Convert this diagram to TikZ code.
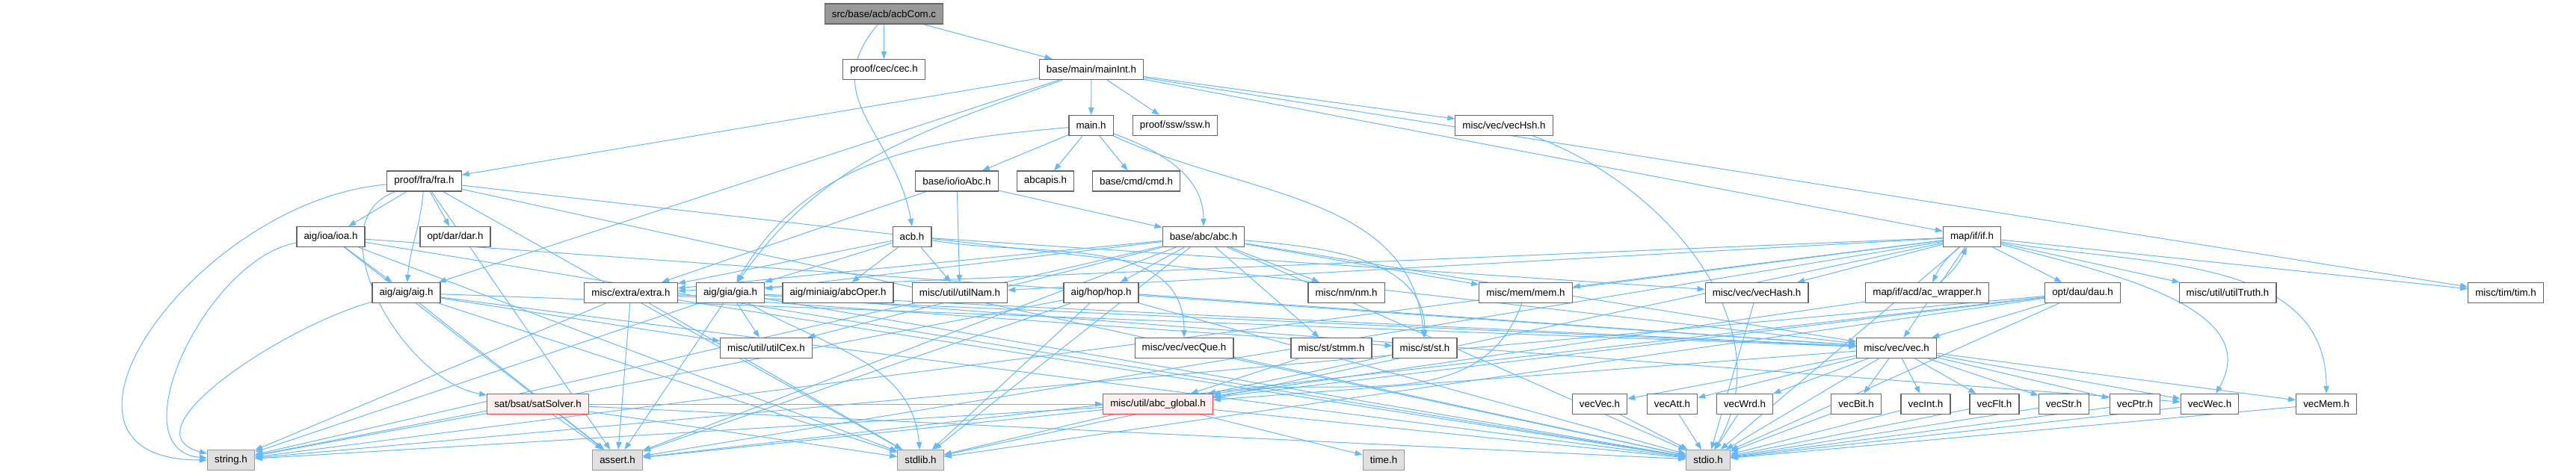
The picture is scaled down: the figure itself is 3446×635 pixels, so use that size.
\documentclass[tikz,border=0pt]{standalone}
\usepackage{fontspec}
\setmainfont{Liberation Sans}
\usetikzlibrary{arrows.meta}
\definecolor{edgeblue}{HTML}{63B8FF}
\definecolor{boxgray}{HTML}{666666}
\definecolor{sysgray}{HTML}{999999}
\definecolor{sysfill}{HTML}{E0E0E0}
\definecolor{rootfill}{HTML}{999999}
\definecolor{redline}{HTML}{F03C3C}
\definecolor{redfill}{HTML}{FFF0F0}
\pgfdeclarelayer{background}
\pgfsetlayers{background,main}
\tikzset{
  file/.style={draw=boxgray, fill=white, line width=0.9pt, font=\fontsize{10}{12}\selectfont,
    minimum height=20.25pt, inner xsep=7.2pt, inner ysep=2pt},
  rootfile/.style={file, fill=rootfill},
  sysfile/.style={file, draw=sysgray, fill=sysfill},
  cutfile/.style={file, draw=redline, fill=redfill},
  edge/.style={draw=edgeblue, line width=0.75pt, -{Triangle[length=7.5pt,width=5.5pt]}}
}
\begin{document}
\begin{tikzpicture}[x=0.75pt, y=-0.75pt]
  \useasboundingbox (0,0) rectangle (3446,635);
  \path
    (1182.5,18.5) node[rootfile] (acbcom){src/base/acb/acbCom.c}
    (1182.5,93) node[file] (cec){proof/cec/cec.h}
    (1460,93) node[file] (mainint){base/main/mainInt.h}
    (1459.5,168) node[file] (main){main.h}
    (1572,168) node[file] (ssw){proof/ssw/ssw.h}
    (2012,168) node[file] (vechsh){misc/vec/vecHsh.h}
    (567.5,242.5) node[file] (fra){proof/fra/fra.h}
    (1280,242.5) node[file] (ioabc){base/io/ioAbc.h}
    (1398.5,242.5) node[file] (abcapis){abcapis.h}
    (1520,242.5) node[file] (cmd){base/cmd/cmd.h}
    (442.5,317) node[file] (ioa){aig/ioa/ioa.h}
    (609,317) node[file] (dar){opt/dar/dar.h}
    (1220,317) node[file] (acb){acb.h}
    (1610,317) node[file] (abc){base/abc/abc.h}
    (2638,317) node[file] (ifh){map/if/if.h}
    (543.5,392) node[file] (aig){aig/aig/aig.h}
    (844,392) node[file] (extra){misc/extra/extra.h}
    (977,392) node[file] (gia){aig/gia/gia.h}
    (1121,392) node[file] (abcoper){aig/miniaig/abcOper.h}
    (1284,392) node[file] (utilnam){misc/util/utilNam.h}
    (1473,392) node[file] (hop){aig/hop/hop.h}
    (1801,392) node[file] (nm){misc/nm/nm.h}
    (2041,392) node[file] (mem){misc/mem/mem.h}
    (2350,392) node[file] (vechash){misc/vec/vecHash.h}
    (2578,392) node[file] (acwrap){map/if/acd/ac\_wrapper.h}
    (2786,392) node[file] (dau){opt/dau/dau.h}
    (2980,392) node[file] (utiltruth){misc/util/utilTruth.h}
    (3352,392) node[file] (tim){misc/tim/tim.h}
    (1025,466) node[file] (utilcex){misc/util/utilCex.h}
    (1584,466) node[file] (vecque){misc/vec/vecQue.h}
    (1781,466) node[file] (stmm){misc/st/stmm.h}
    (1906,466) node[file] (st){misc/st/st.h}
    (2537,466) node[file] (vec){misc/vec/vec.h}
    (719.5,541) node[cutfile] (satsolver){sat/bsat/satSolver.h}
    (1549,541) node[cutfile] (abcglobal){misc/util/abc\_global.h}
    (2140,541) node[file] (vecvec){vecVec.h}
    (2237,541) node[file] (vecatt){vecAtt.h}
    (2334,541) node[file] (vecwrd){vecWrd.h}
    (2483,541) node[file] (vecbit){vecBit.h}
    (2576,541) node[file] (vecint){vecInt.h}
    (2668,541) node[file] (vecflt){vecFlt.h}
    (2761,541) node[file] (vecstr){vecStr.h}
    (2856,541) node[file] (vecptr){vecPtr.h}
    (2956,541) node[file] (vecwec){vecWec.h}
    (3112,541) node[file] (vecmem){vecMem.h}
    (309,616) node[sysfile] (string){string.h}
    (826,616) node[sysfile] (assert){assert.h}
    (1231.5,616) node[sysfile] (stdlib){stdlib.h}
    (1851,616) node[sysfile] (time){time.h}
    (2285,616) node[sysfile] (stdio){stdio.h};
  \begin{pgfonlayer}{background}
  \begin{scope}[edge]
    \draw (acbcom.240) to[out=230,in=100,looseness=1.2] (acb.north);
    \draw (acbcom) to (cec);
    \draw (acbcom) to (mainint);
    \draw (mainint) to (main);
    \draw (mainint) to (ssw);
    \draw (mainint) to (vechsh);
    \draw (mainint) to (fra);
    \draw (mainint) to (ifh);
    \draw (mainint) to (tim);
    \draw (mainint) to (aig);
    \draw (mainint) to[out=200,in=55] (gia);
    \draw (main) to (ioabc);
    \draw (main) to (abcapis);
    \draw (main) to (cmd);
    \draw (main) to[out=-20,in=90] (abc);
    \draw (main) to[out=185,in=60] (gia);
    \draw (main) to[out=-25,in=95] (st);
    \draw (fra) to (ioa);
    \draw (fra) to (dar);
    \draw (fra) to[out=-95,in=85] (aig);
    \draw (fra) to[out=200,in=170] (satsolver);
    \draw (fra) to (vec);
    \draw (fra) to[out=185,in=180,looseness=1.5] (string);
    \draw (fra) to (stdlib);
    \draw (fra) to (assert);
    \draw (fra) to (stdio);
    \draw (ioa) to (aig);
    \draw (ioa) to (vec);
    \draw (ioa) to[out=190,in=175] (string);
    \draw (ioa) to (stdlib);
    \draw (ioa) to (assert);
    \draw (ioa) to (stdio);
    \draw (acb) to (gia);
    \draw (acb) to (extra);
    \draw (acb) to (abcoper);
    \draw (acb) to (utilnam);
    \draw (acb) to (vechash);
    \draw (acb) to[out=-10,in=90] (vecque);
    \draw (ioabc) to (abc);
    \draw (ioabc) to (extra);
    \draw (ioabc) to (utilnam);
    \draw (abc) to (hop);
    \draw (abc) to (nm);
    \draw (abc) to (mem);
    \draw (abc) to (stmm);
    \draw (abc) to[out=-5,in=90] (st);
    \draw (abc) to (vec);
    \draw (abc) to (gia);
    \draw (abc) to (extra);
    \draw (abc) to (utilcex);
    \draw (abc) to (string);
    \draw (abc) to (stdlib);
    \draw (abc) to (assert);
    \draw (abc) to (stdio);
    \draw (ifh) to[bend right=12] (acwrap);
    \draw (acwrap) to[bend right=12] (ifh);
    \draw (ifh) to (dau);
    \draw (ifh) to (utiltruth);
    \draw (ifh) to (tim);
    \draw (ifh) to (vechash);
    \draw (ifh) to (mem);
    \draw (ifh) to (vec);
    \draw (ifh) to[out=-15,in=60] (vecwec);
    \draw (ifh) to[out=-10,in=90] (vecmem);
    \draw (ifh) to (utilnam);
    \draw (ifh) to (extra);
    \draw (ifh) to (string);
    \draw (ifh) to (stdlib);
    \draw (ifh) to (assert);
    \draw (ifh) to (stdio);
    \draw (acwrap) to (abcglobal);
    \draw (dau) to (vec);
    \draw (dau) to (abcglobal);
    \draw (dau) to (string);
    \draw (dau) to (stdlib);
    \draw (dau) to (assert);
    \draw (dau) to (stdio);
    \draw (aig) to (utilcex);
    \draw (aig) to (vec);
    \draw (aig) to[out=195,in=165] (string);
    \draw (aig) to (stdlib);
    \draw (aig) to (assert);
    \draw (aig) to (stdio);
    \draw (extra) to (st);
    \draw (extra) to (vec);
    \draw (extra) to (string);
    \draw (extra) to (stdlib);
    \draw (extra) to (assert);
    \draw (extra) to (stdio);
    \draw (gia) to (utilcex);
    \draw (gia) to (vec);
    \draw (gia) to (vecwec);
    \draw (gia) to (string);
    \draw (gia) to[out=-30,in=95] (stdlib);
    \draw (gia) to (assert);
    \draw (gia) to (stdio);
    \draw (hop) to (vec);
    \draw (hop) to (string);
    \draw (hop) to (stdlib);
    \draw (hop) to (assert);
    \draw (hop) to (stdio);
    \draw (mem) to[out=-110,in=10] (abcglobal);
    \draw (stmm) to (abcglobal);
    \draw (st) to (abcglobal);
    \draw (vechash) to (stdio);
    \draw (vechsh) to[out=-20,in=60] (stdio);
    \draw (vecque) to (stdio);
    \draw (satsolver) to (abcglobal);
    \draw (satsolver) to (string);
    \draw (satsolver) to (stdlib);
    \draw (satsolver) to (assert);
    \draw (satsolver) to (stdio);
    \draw (vec) to (vecvec);
    \draw (vec) to (vecatt);
    \draw (vec) to (vecwrd);
    \draw (vec) to (vecbit);
    \draw (vec) to (vecint);
    \draw (vec) to (vecflt);
    \draw (vec) to (vecstr);
    \draw (vec) to (vecptr);
    \draw (vec) to (vecwec);
    \draw (vec) to (vecmem);
    \draw (vec) to (abcglobal);
    \draw (vec) to (stdio);
    \draw (vecvec) to (stdio);
    \draw (vecatt) to (stdio);
    \draw (vecwrd) to (stdio);
    \draw (vecbit) to (stdio);
    \draw (vecint) to (stdio);
    \draw (vecflt) to (stdio);
    \draw (vecstr) to (stdio);
    \draw (vecptr) to (stdio);
    \draw (vecwec) to (stdio);
    \draw (vecmem) to (stdio);
    \draw (abcglobal) to (time);
    \draw (abcglobal) to (string);
    \draw (abcglobal) to (stdlib);
    \draw (abcglobal) to (assert);
    \draw (abcglobal) to (stdio);
  \end{scope}
  \end{pgfonlayer}
\end{tikzpicture}
\end{document}
